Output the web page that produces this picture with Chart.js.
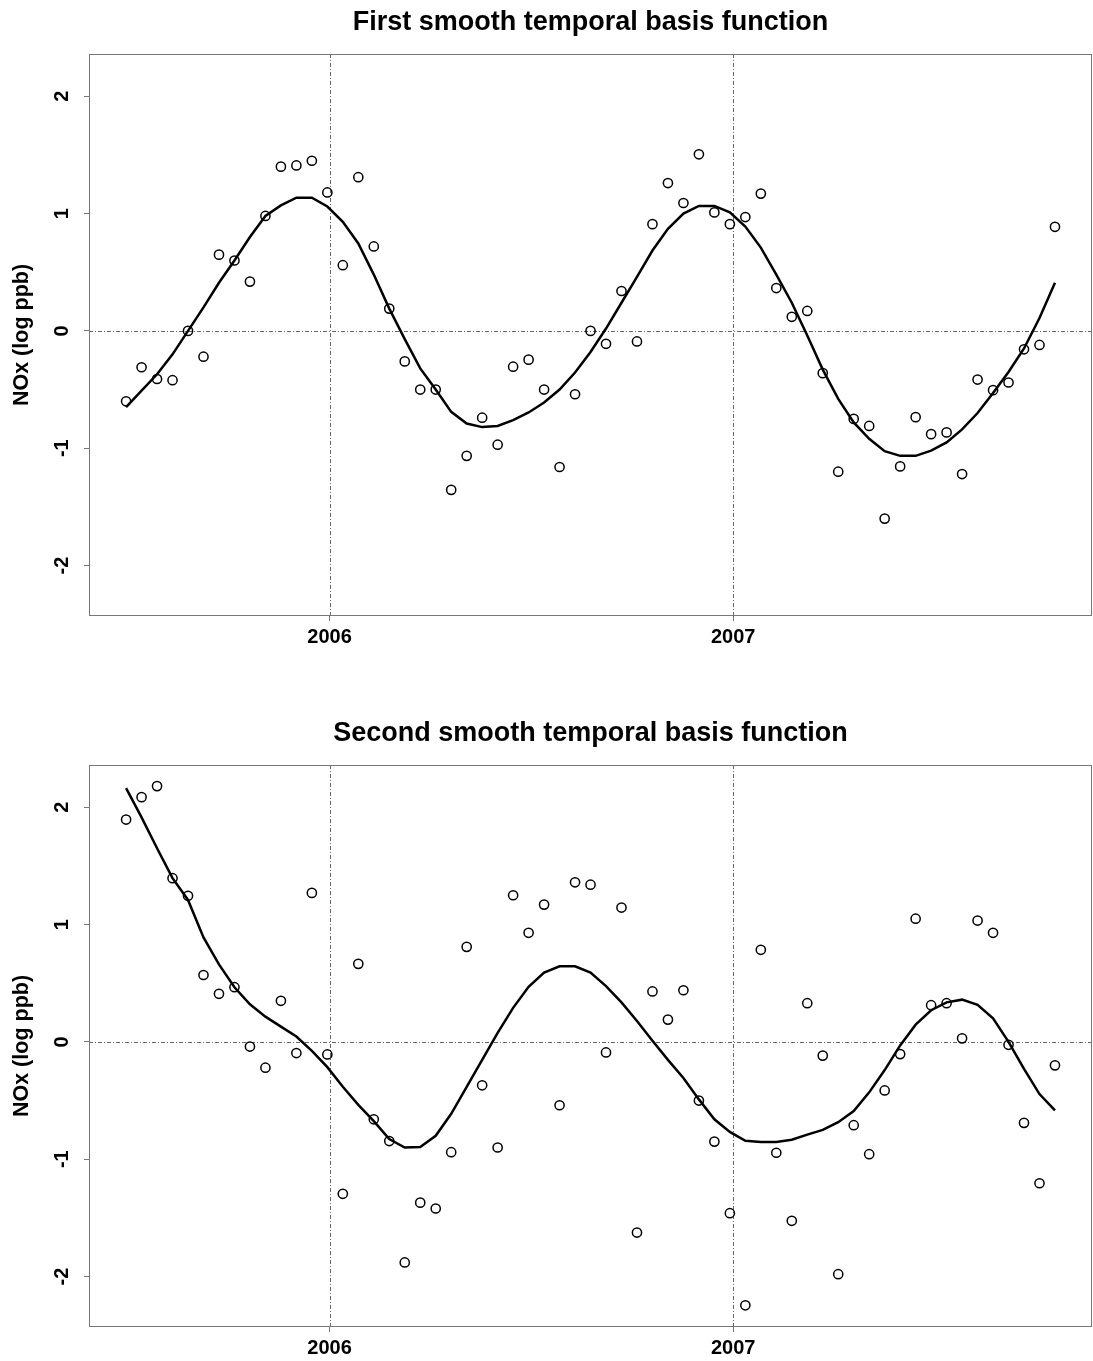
<!DOCTYPE html>
<html>
<head>
<meta charset="utf-8">
<script src="https://cdn.jsdelivr.net/npm/chart.js@4.4.1/dist/chart.umd.min.js"></script>
<style>
html, body { margin: 0; padding: 0; background: #ffffff; }
#wrap { position: relative; width: 1093px; height: 1361px; overflow: hidden; }
#wrap canvas { position: absolute; left: 0; }
</style>
</head>
<body>
<div id="wrap">
  <canvas id="c1" width="1093" height="710" style="top:0px"></canvas>
  <canvas id="c2" width="1093" height="651" style="top:710px"></canvas>
</div>
<script>
// ---- data ----
const dates = [
  '2005-07-01','2005-07-15','2005-07-29','2005-08-12','2005-08-26','2005-09-09','2005-09-23','2005-10-07','2005-10-21','2005-11-04',
  '2005-11-18','2005-12-02','2005-12-16','2005-12-30','2006-01-13','2006-01-27','2006-02-10','2006-02-24','2006-03-10','2006-03-24',
  '2006-04-07','2006-04-21','2006-05-05','2006-05-19','2006-06-02','2006-06-16','2006-06-30','2006-07-14','2006-07-28','2006-08-11',
  '2006-08-25','2006-09-08','2006-09-22','2006-10-06','2006-10-20','2006-11-03','2006-11-17','2006-12-01','2006-12-15','2006-12-29',
  '2007-01-12','2007-01-26','2007-02-09','2007-02-23','2007-03-09','2007-03-23','2007-04-06','2007-04-20','2007-05-04','2007-05-18',
  '2007-06-01','2007-06-15','2007-06-29','2007-07-13','2007-07-27','2007-08-10','2007-08-24','2007-09-07','2007-09-21','2007-10-05',
  '2007-10-19'
];

const basis1Points = [
  -0.60, -0.31, -0.41, -0.42, 0.00, -0.22, 0.65, 0.60, 0.42, 0.98,
  1.40, 1.41, 1.45, 1.18, 0.56, 1.31, 0.72, 0.19, -0.26, -0.50,
  -0.50, -1.355, -1.065, -0.74, -0.97, -0.305, -0.245, -0.50, -1.16, -0.54,
  0.00, -0.11, 0.34, -0.09, 0.91, 1.26, 1.09, 1.505, 1.01, 0.91,
  0.97, 1.17, 0.365, 0.12, 0.17, -0.36, -1.20, -0.75, -0.81, -1.60,
  -1.155, -0.735, -0.88, -0.865, -1.22, -0.415, -0.505, -0.44, -0.157, -0.12,
  0.887
];

const basis1Smooth = [
  -0.65, -0.51, -0.37, -0.20, 0.00, 0.20, 0.41, 0.60, 0.80, 0.98,
  1.07, 1.135, 1.135, 1.06, 0.93, 0.745, 0.48, 0.19, -0.07, -0.32,
  -0.50, -0.69, -0.79, -0.82, -0.81, -0.76, -0.695, -0.61, -0.50, -0.355,
  -0.18, 0.02, 0.24, 0.46, 0.685, 0.87, 1.00, 1.065, 1.065, 1.01,
  0.89, 0.71, 0.48, 0.24, -0.04, -0.33, -0.58, -0.78, -0.92, -1.025,
  -1.065, -1.065, -1.02, -0.95, -0.84, -0.70, -0.53, -0.35, -0.15, 0.11,
  0.41
];

const basis2Points = [
  1.895, 2.086, 2.18, 1.395, 1.245, 0.57, 0.41, 0.466, -0.04, -0.22,
  0.35, -0.095, 1.27, -0.107, -1.295, 0.665, -0.66, -0.845, -1.88, -1.37,
  -1.42, -0.94, 0.81, -0.37, -0.90, 1.25, 0.93, 1.17, -0.54, 1.36,
  1.34, -0.09, 1.145, -1.625, 0.43, 0.19, 0.44, -0.50, -0.85, -1.46,
  -2.245, 0.785, -0.945, -1.525, 0.33, -0.117, -1.98, -0.71, -0.957, -0.414,
  -0.104, 1.05, 0.313, 0.33, 0.03, 1.034, 0.93, -0.025, -0.69, -1.205,
  -0.20
];

const basis2Smooth = [
  2.163, 1.914, 1.65, 1.396, 1.21, 0.89, 0.66, 0.466, 0.32, 0.215,
  0.13, 0.046, -0.077, -0.215, -0.383, -0.537, -0.675, -0.828, -0.90, -0.896,
  -0.80, -0.613, -0.383, -0.153, 0.077, 0.29, 0.47, 0.59, 0.644, 0.644,
  0.59, 0.475, 0.337, 0.178, 0.01, -0.153, -0.307, -0.49, -0.66, -0.767,
  -0.843, -0.853, -0.853, -0.834, -0.79, -0.75, -0.684, -0.59, -0.43, -0.24,
  -0.03, 0.147, 0.27, 0.337, 0.36, 0.316, 0.20, 0.00, -0.23, -0.445,
  -0.583
];

const xTickValues = [2006, 2007];
const xTickLabels = ['2006', '2007'];
const yTickValues = [-2, -1, 0, 1, 2];
const yTickLabels = ['-2', '-1', '0', '1', '2'];
const titles = ['First smooth temporal basis function', 'Second smooth temporal basis function'];
const yAxisTitle = 'NOx (log ppb)';

// axis limits (R style: data range extended by 4%)
const X_MIN = 2005.404, X_MAX = 2007.889;
const Y_MIN = -2.43, Y_MAX = 2.36;

// ---- helpers ----
function toYear(s) {
  const [y, m, d] = s.split('-').map(Number);
  const t = Date.UTC(y, m - 1, d), t0 = Date.UTC(y, 0, 1), t1 = Date.UTC(y + 1, 0, 1);
  return y + (t - t0) / (t1 - t0);
}
const xs = dates.map(toYear);

const FONT = '"Liberation Sans", Arial, Helvetica, sans-serif';

const framePlugin = {
  id: 'frame',
  beforeDatasetsDraw(chart) {
    const { ctx, chartArea: a, scales: { x, y } } = chart;
    ctx.save();
    ctx.strokeStyle = '#666666';
    ctx.lineWidth = 1;
    ctx.setLineDash([4, 2, 1, 2]);
    ctx.beginPath();
    xTickValues.forEach(v => {
      const px = Math.round(x.getPixelForValue(v)) + 0.5;
      ctx.moveTo(px, a.top); ctx.lineTo(px, a.bottom);
    });
    const py = Math.round(y.getPixelForValue(0)) + 0.5;
    ctx.moveTo(a.left, py); ctx.lineTo(a.right, py);
    ctx.stroke();
    ctx.setLineDash([]);
    ctx.strokeStyle = '#777777';
    ctx.strokeRect(Math.round(a.left) + 0.5, Math.round(a.top) + 0.5,
                   Math.round(a.right - a.left) - 1, Math.round(a.bottom - a.top) - 1);
    ctx.restore();
  }
};

function makeChart(id, pts, smooth, title, titlePadTop, xHeight) {
  return new Chart(document.getElementById(id), {
    type: 'scatter',
    data: {
      datasets: [
        {
          type: 'line',
          data: xs.map((x, i) => ({ x: x, y: smooth[i] })),
          borderColor: '#000000',
          borderWidth: 2.5,
          pointRadius: 0,
          tension: 0,
          fill: false,
          order: 2
        },
        {
          type: 'scatter',
          data: xs.map((x, i) => ({ x: x, y: pts[i] })),
          pointStyle: 'circle',
          pointRadius: 4.6,
          pointBorderWidth: 1.5,
          borderColor: '#000000',
          backgroundColor: 'rgba(0,0,0,0)',
          order: 1
        }
      ]
    },
    options: {
      responsive: false,
      animation: false,
      devicePixelRatio: 1,
      layout: { autoPadding: false, padding: { left: 0, right: 1, top: 0, bottom: 0 } },
      plugins: {
        legend: { display: false },
        tooltip: { enabled: false },
        title: {
          display: true,
          text: title,
          fullSize: false,
          color: '#000000',
          font: { family: FONT, size: 27, weight: 'bold', lineHeight: 1.2 },
          padding: { top: titlePadTop, bottom: 15.6 }
        }
      },
      scales: {
        x: {
          type: 'linear',
          min: X_MIN,
          max: X_MAX,
          afterBuildTicks: s => { s.ticks = xTickValues.map(v => ({ value: v })); },
          afterFit: s => { s.height = xHeight; s.paddingLeft = 0; s.paddingRight = 0; },
          ticks: {
            callback: v => { const i = xTickValues.indexOf(v); return i >= 0 ? xTickLabels[i] : ''; },
            autoSkip: false,
            minRotation: 0,
            maxRotation: 0,
            padding: 4,
            color: '#000000',
            font: { family: FONT, size: 20, weight: 'bold', lineHeight: 1.2 }
          },
          grid: { display: true, drawOnChartArea: false, drawTicks: true, tickLength: 5, tickColor: '#777777', tickWidth: 1 },
          border: { display: false }
        },
        y: {
          type: 'linear',
          min: Y_MIN,
          max: Y_MAX,
          afterBuildTicks: s => { s.ticks = yTickValues.map(v => ({ value: v })); },
          afterFit: s => { s.width = 89; s.paddingTop = 0; s.paddingBottom = 0; s.paddingLeft = 0; s.paddingRight = 0; },
          ticks: {
            callback: v => { const i = yTickValues.indexOf(v); return i >= 0 ? yTickLabels[i] : ''; },
            autoSkip: false,
            minRotation: 90,
            maxRotation: 90,
            crossAlign: 'center',
            padding: 13,
            color: '#000000',
            font: { family: FONT, size: 20, weight: 'bold', lineHeight: 1.2 }
          },
          grid: { display: true, drawOnChartArea: false, drawTicks: true, tickLength: 5, tickColor: '#777777', tickWidth: 1 },
          border: { display: false },
          title: {
            display: true,
            text: yAxisTitle,
            color: '#000000',
            font: { family: FONT, size: 21.5, weight: 'bold', lineHeight: 1.2 },
            padding: { top: 9, bottom: 0 }
          }
        }
      }
    },
    plugins: [framePlugin]
  });
}

makeChart('c1', basis1Points, basis1Smooth, titles[0], 6, 94);
makeChart('c2', basis2Points, basis2Smooth, titles[1], 7, 34);
</script>
</body>
</html>
